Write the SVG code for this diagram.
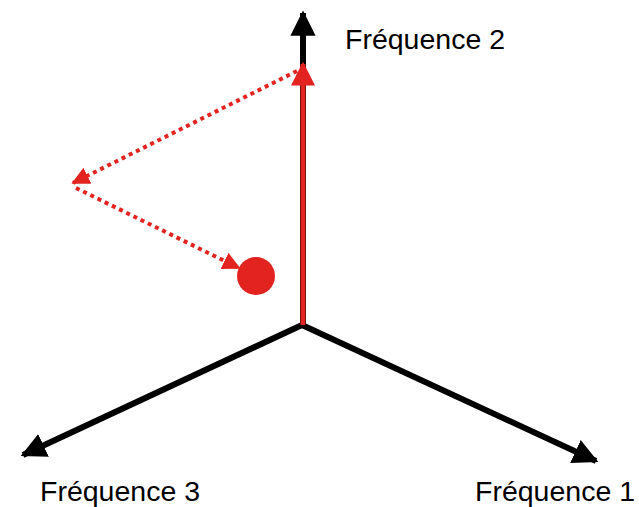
<svg xmlns="http://www.w3.org/2000/svg" width="639" height="507" viewBox="0 0 639 507">
<defs>
<marker id="ah-black" viewBox="0 0 10 10" refX="9" refY="5" markerWidth="4.2" markerHeight="4.2" markerUnits="strokeWidth" orient="auto"><path d="M0,0 L10,5 L0,10 Z" fill="#000"/></marker>
<marker id="ah-red" viewBox="0 0 10 10" refX="9" refY="5" markerWidth="4.8" markerHeight="4.8" markerUnits="strokeWidth" orient="auto"><path d="M0,0 L10,5 L0,10 Z" fill="#e3231f"/></marker>
<marker id="ah-red-s" viewBox="0 0 10 10" refX="9" refY="5" markerWidth="4.5" markerHeight="4.5" markerUnits="strokeWidth" orient="auto"><path d="M0,0 L10,5 L0,10 Z" fill="#e3231f"/></marker>
</defs>
<style>
.axis{stroke:#000;stroke-width:6;fill:none;marker-end:url(#ah-black)}
.vec{stroke:#e3231f;stroke-width:5;fill:none;marker-end:url(#ah-red)}
.dot{stroke:#e3231f;stroke-width:4;stroke-dasharray:4 4;fill:none;marker-end:url(#ah-red-s)}
.lbl{font-family:"Liberation Sans",Arial,sans-serif;font-size:28.5px;fill:#000}
</style>
<rect width="639" height="507" fill="#fff"/>
<g id="connectors">
<line class="axis" x1="303" y1="325" x2="303" y2="13"/>
<line class="axis" x1="302" y1="325" x2="23" y2="455"/>
<line class="axis" x1="302" y1="325" x2="596" y2="461"/>
<line class="vec" x1="303" y1="325" x2="303" y2="64"/>
<line class="dot" x1="297" y1="71" x2="73" y2="183"/>
<line class="dot" x1="76" y1="188" x2="239" y2="268"/>
</g>
<g id="point"><circle cx="256" cy="276" r="19" fill="#e3231f"/></g>
<g id="label-f2"><text class="lbl" x="345" y="49">Fréquence 2</text></g>
<g id="label-f3"><text class="lbl" x="40" y="501">Fréquence 3</text></g>
<g id="label-f1"><text class="lbl" x="475" y="501">Fréquence 1</text></g>
</svg>
